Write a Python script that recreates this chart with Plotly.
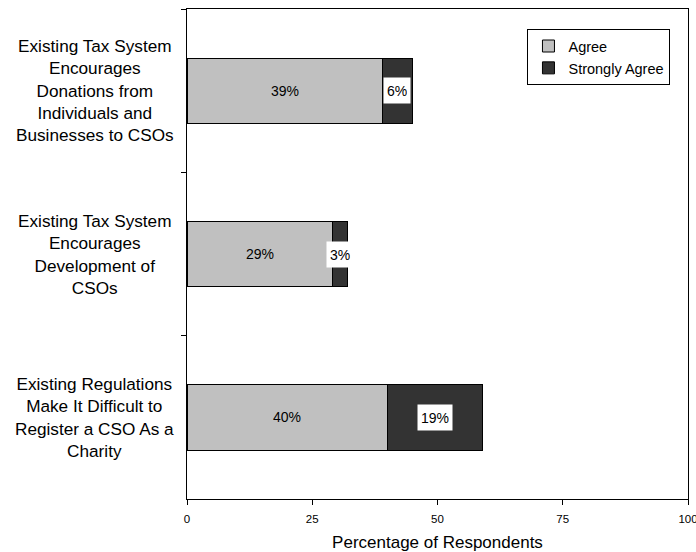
import plotly.graph_objects as go

categories = [
    "Existing Tax System<br>Encourages<br>Donations from<br>Individuals and<br>Businesses to CSOs",
    "Existing Tax System<br>Encourages<br>Development of<br>CSOs",
    "Existing Regulations<br>Make It Difficult to<br>Register a CSO As a<br>Charity",
]
agree = [39, 29, 40]
strongly_agree = [6, 3, 19]
x_ticks = [0, 25, 50, 75, 100]

FONT = "Liberation Sans, Arial, Helvetica, sans-serif"

fig = go.Figure()
fig.add_trace(go.Bar(
    y=categories, x=agree, orientation="h", name="Agree",
    marker=dict(color="#C0C0C0", line=dict(color="#000000", width=1)),
    hoverinfo="x",
))
fig.add_trace(go.Bar(
    y=categories, x=strongly_agree, orientation="h", name="Strongly Agree",
    marker=dict(color="#333333", line=dict(color="#000000", width=1)),
    hoverinfo="x",
))

annotations = []
for cat, a, s in zip(categories, agree, strongly_agree):
    annotations.append(dict(
        x=a / 2, y=cat, xref="x", yref="y", text=f"{a}%", showarrow=False,
        font=dict(family=FONT, size=14, color="#000000"),
    ))
    annotations.append(dict(
        x=a + s / 2, y=cat, xref="x", yref="y", text=f"{s}%", showarrow=False,
        font=dict(family=FONT, size=14, color="#000000"),
        bgcolor="#FFFFFF", borderpad=3, height=19,
    ))
    annotations.append(dict(
        x=-0.184, xref="paper", y=cat, yref="y", text=cat, showarrow=False,
        xanchor="center", yanchor="middle", align="center",
        font=dict(family=FONT, size=17.2, color="#000000"),
    ))

fig.update_layout(
    width=696, height=552,
    margin=dict(l=187, r=8, t=9, b=53, autoexpand=False),
    barmode="stack", bargap=0.6,
    paper_bgcolor="#FFFFFF", plot_bgcolor="#FFFFFF",
    font=dict(family=FONT, color="#000000"),
    showlegend=True,
    legend=dict(
        x=0.965, y=0.959, xanchor="right", yanchor="top",
        bordercolor="#000000", borderwidth=1, bgcolor="#FFFFFF",
        font=dict(family=FONT, size=14.5, color="#000000"),
        itemwidth=30, tracegroupgap=0, traceorder="normal",
    ),
    annotations=annotations,
    xaxis=dict(
        range=[0, 100], tickvals=x_ticks, ticktext=[str(v) for v in x_ticks],
        showgrid=False, zeroline=False, automargin=False,
        showline=True, linecolor="#000000", linewidth=1, mirror=True,
        ticks="outside", ticklen=5, tickcolor="#000000",
        tickfont=dict(family=FONT, size=11.5), ticklabelstandoff=4,
        ticklabeloverflow="allow",
        title=dict(text="Percentage of Respondents", font=dict(family=FONT, size=17), standoff=14),
    ),
    yaxis=dict(
        categoryorder="array", categoryarray=categories, autorange="reversed",
        showgrid=False, zeroline=False, showticklabels=False, automargin=False,
        showline=True, linecolor="#000000", linewidth=1, mirror=True,
        ticks="outside", ticklen=5, tickcolor="#000000", tickson="boundaries",
    ),
)

fig.write_html("out.html")
